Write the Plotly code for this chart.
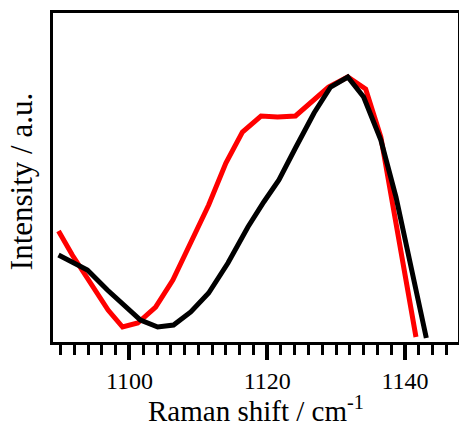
import plotly.graph_objects as go

# Red spectrum
red_shift = [1089.7, 1091.7, 1096.9, 1099.0, 1101.2, 1103.8, 1106.3, 1108.9, 1111.5,
             1114.0, 1116.4, 1119.1, 1121.5, 1124.1, 1126.3, 1128.9, 1131.7, 1134.3,
             1136.5, 1141.6]
red_int = [111, 87, 32, 15, 19, 35, 62, 99, 137,
           179, 210, 226, 225, 226, 240, 255, 265, 253,
           205, 5]

# Black spectrum
black_shift = [1089.7, 1093.9, 1096.8, 1099.4, 1101.6, 1104.1, 1106.4, 1108.9, 1111.5,
               1114.3, 1117.2, 1119.5, 1121.7, 1124.1, 1126.8, 1129.2, 1131.7, 1134.0,
               1136.5, 1138.7, 1143.1]
black_int = [87, 72, 52, 35, 22, 15, 17, 30, 49,
             79, 115, 140, 162, 194, 229, 255, 265, 245,
             202, 145, 4]

x_ticks = [1100, 1120, 1140]

fig = go.Figure()
fig.add_trace(go.Scatter(x=red_shift, y=red_int, mode="lines",
                         line=dict(color="#ff0000", width=5), showlegend=False))
fig.add_trace(go.Scatter(x=black_shift, y=black_int, mode="lines",
                         line=dict(color="#000000", width=5), showlegend=False))

font = "Times New Roman, Liberation Serif, serif"
fig.update_layout(
    width=459, height=421,
    margin=dict(l=53, r=1, t=13, b=79),
    paper_bgcolor="white", plot_bgcolor="white",
    font=dict(family=font, color="black", size=24),
    xaxis=dict(
        range=[1088.9, 1147.7],
        tickvals=x_ticks, ticktext=[str(v) for v in x_ticks],
        ticks="outside", ticklen=15, tickwidth=4, tickcolor="black",
        minor=dict(dtick=2, ticklen=10, tickwidth=3, ticks="outside", tickcolor="black"),
        showline=True, linewidth=3, linecolor="black", mirror=True,
        showgrid=False, zeroline=False, automargin=False,
        tickfont=dict(family=font, size=24),
    ),
    yaxis=dict(
        range=[0, 329],
        showticklabels=False, ticks="",
        showline=True, linewidth=3, linecolor="black", mirror=True,
        showgrid=False, zeroline=False, automargin=False,
    ),
    annotations=[
        dict(text="Raman shift / cm<sup>-1</sup>", xref="paper", yref="paper",
             x=0.5, y=-0.203, xanchor="center", yanchor="middle", showarrow=False,
             font=dict(family=font, size=29, color="black")),
        dict(text="Intensity / a.u.", xref="paper", yref="paper", textangle=-90,
             x=-0.078, y=0.487, xanchor="center", yanchor="middle", showarrow=False,
             font=dict(family=font, size=31, color="black")),
    ],
)

fig.write_html("out.html", config={"displayModeBar": False},
               post_script="document.body.style.margin='0';document.body.style.overflow='hidden';")
